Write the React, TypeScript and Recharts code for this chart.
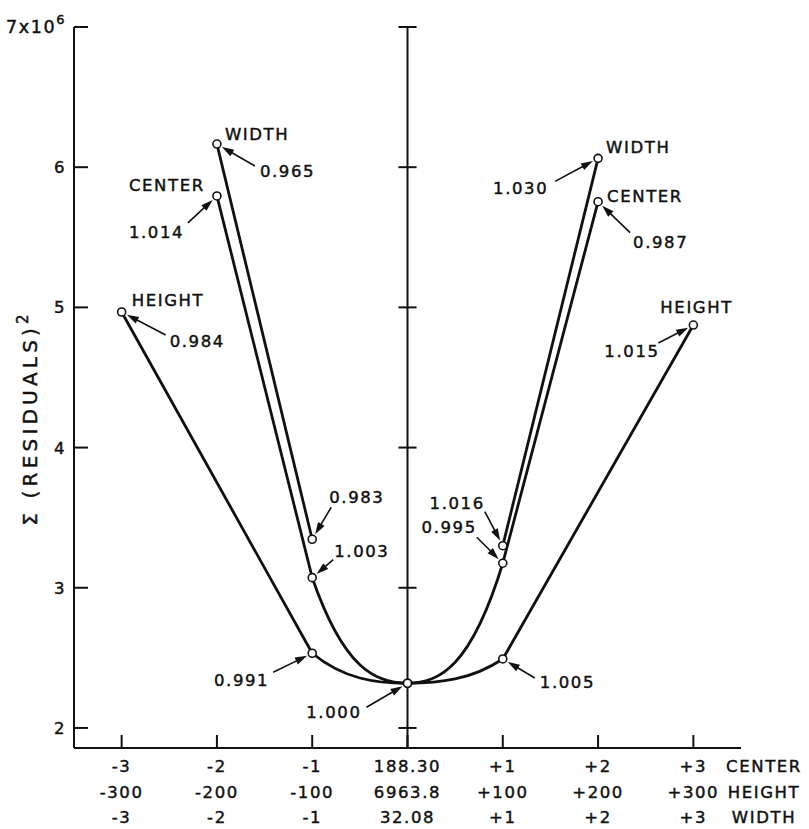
import { LabelList, Line, LineChart, ReferenceLine, XAxis, YAxis } from "recharts";

// Steps of each parameter away from the best fit.
const xValues = [-3, -2, -1, 0, 1, 2, 3];
const centerSeries = [null, 5.795, 3.072, 2.319, 3.175, 5.754, null];
const heightSeries = [4.967, null, 2.533, 2.319, 2.492, null, 4.874];
const widthSeries = [null, 6.165, 3.346, null, 3.3, 6.063, null];

// Ratio annotations written next to each point.
const centerRatio = [null, "1.014", "1.003", "1.000", "0.995", "0.987", null];
const heightRatio = ["0.984", null, "0.991", null, "1.005", null, "1.015"];
const widthRatio = [null, "0.965", "0.983", null, "1.016", "1.030", null];

const seriesNames = ["CENTER", "HEIGHT", "WIDTH"];
const centerTickLabels = ["-3", "-2", "-1", "188.30", "+1", "+2", "+3"];
const heightTickLabels = ["-300", "-200", "-100", "6963.8", "+100", "+200", "+300"];
const widthTickLabels = ["-3", "-2", "-1", "32.08", "+1", "+2", "+3"];
const yTicks = [2, 3, 4, 5, 6, 7];

const rows = xValues.map((x, i) => ({
  x,
  center: centerSeries[i],
  height: heightSeries[i],
  width: widthSeries[i],
  centerNote: centerRatio[i],
  heightNote: heightRatio[i],
  widthNote: widthRatio[i],
}));

const W = 809;
const H = 829;
const Y_AXIS_W = 74;
const X_AXIS_H = 81;
const MARGIN = { top: 27, right: 68, bottom: 0, left: 0 };
const PLOT_LEFT = MARGIN.left + Y_AXIS_W;
const AXIS_Y = H - MARGIN.bottom - X_AXIS_H;
const FONT = '"DejaVu Sans", sans-serif';
const INK = "#111";
const DOT_R = 4;

// Hand lettering is heavier than the Book face, so give it a thin outline.
const textStyle = {
  fontFamily: FONT,
  fontSize: 16.5,
  letterSpacing: 1.6,
  fill: INK,
  stroke: INK,
  strokeWidth: 0.45,
} as const;

// Where each annotation sits relative to its point (text pos, arrow tail).
type NoteSpot = { dx: number; dy: number; anchor: "start" | "end"; tx: number; ty: number };
const NOTE_SPOTS: Record<string, NoteSpot> = {
  "width:-2": { dx: 43, dy: 33, anchor: "start", tx: 38, ty: 22 },
  "center:-2": { dx: -88, dy: 42, anchor: "start", tx: -29, ty: 27 },
  "height:-3": { dx: 48, dy: 35, anchor: "start", tx: 44, ty: 23 },
  "width:-1": { dx: 17, dy: -36, anchor: "start", tx: 19, ty: -32 },
  "center:-1": { dx: 22, dy: -21, anchor: "start", tx: 21, ty: -18 },
  "height:-1": { dx: -43, dy: 33, anchor: "end", tx: -39, ty: 19 },
  "center:0": { dx: -46, dy: 35, anchor: "end", tx: -41, ty: 24 },
  "width:1": { dx: -18, dy: -37, anchor: "end", tx: -18, ty: -34 },
  "center:1": { dx: -26, dy: -30, anchor: "end", tx: -26, ty: -26 },
  "height:1": { dx: 37, dy: 29, anchor: "start", tx: 32, ty: 19 },
  "width:2": { dx: -105, dy: 36, anchor: "start", tx: -43, ty: 23 },
  "center:2": { dx: 35, dy: 46, anchor: "start", tx: 32, ty: 31 },
  "height:3": { dx: -89, dy: 32, anchor: "start", tx: -35, ty: 18 },
};

// Series name written beside the outermost point.
const NAME_SPOTS: Record<string, { dx: number; dy: number }> = {
  "width:-2": { dx: 8, dy: -4 },
  "center:-2": { dx: -88, dy: -5 },
  "height:-3": { dx: 10, dy: -6 },
  "width:2": { dx: 8, dy: -5 },
  "center:2": { dx: 9, dy: 0 },
  "height:3": { dx: -33, dy: -12 },
};

/**
 * Straight segments, except the two segments around the lowest point,
 * which are smooth and flatten out into it (as drawn by hand in the figure).
 */
function kneeCurve(context: any) {
  let pts: number[][] = [];
  return {
    areaStart() {},
    areaEnd() {},
    lineStart() {
      pts = [];
    },
    point(x: number, y: number) {
      pts.push([+x, +y]);
    },
    lineEnd() {
      const n = pts.length;
      if (!n) return;
      context.moveTo(pts[0][0], pts[0][1]);
      let b = 0;
      pts.forEach((p, i) => {
        if (p[1] > pts[b][1]) b = i;
      });
      const curved = b > 0 && b < n - 1;
      const slope = (i: number, j: number) => (pts[j][1] - pts[i][1]) / (pts[j][0] - pts[i][0]);
      const tangent = (i: number) => {
        if (i === b) return 0;
        const inner = i < b ? slope(i, i + 1) : slope(i - 1, i);
        const outer = i < b ? (i > 0 ? slope(i - 1, i) : inner) : i < n - 1 ? slope(i, i + 1) : inner;
        return Math.sign(inner) * Math.min(Math.abs(outer), 2.6 * Math.abs(inner));
      };
      for (let i = 0; i < n - 1; i++) {
        const [x0, y0] = pts[i];
        const [x1, y1] = pts[i + 1];
        if (curved && (i === b - 1 || i === b)) {
          const d = (x1 - x0) / 3;
          context.bezierCurveTo(x0 + d, y0 + d * tangent(i), x1 - d, y1 - d * tangent(i + 1), x1, y1);
        } else {
          context.lineTo(x1, y1);
        }
      }
    },
  };
}

function Arrow({ x1, y1, x2, y2 }: { x1: number; y1: number; x2: number; y2: number }) {
  const len = Math.hypot(x2 - x1, y2 - y1);
  const ux = (x2 - x1) / len;
  const uy = (y2 - y1) / len;
  const tipX = x2 - ux * (DOT_R + 1.8);
  const tipY = y2 - uy * (DOT_R + 1.8);
  const bx = tipX - ux * 12;
  const by = tipY - uy * 12;
  const px = -uy * 3.8;
  const py = ux * 3.8;
  return (
    <g>
      <line x1={x1} y1={y1} x2={bx + ux * 2} y2={by + uy * 2} stroke={INK} strokeWidth={1.6} />
      <polygon points={`${tipX},${tipY} ${bx + px},${by + py} ${bx - px},${by - py}`} fill={INK} />
    </g>
  );
}

function noteRenderer(series: string, name: string) {
  return (props: any) => {
    const { value, index } = props;
    const px = props.viewBox?.x ?? props.x;
    const py = props.viewBox?.y ?? props.y;
    if (px == null || py == null) return null;
    const key = `${series}:${xValues[index]}`;
    const spot = NOTE_SPOTS[key];
    const nameSpot = NAME_SPOTS[key];
    return (
      <g>
        {value != null && spot ? (
          <>
            <Arrow x1={px + spot.tx} y1={py + spot.ty} x2={px} y2={py} />
            <text x={px + spot.dx} y={py + spot.dy} textAnchor={spot.anchor} style={textStyle}>
              {value}
            </text>
          </>
        ) : null}
        {nameSpot ? (
          <text x={px + nameSpot.dx} y={py + nameSpot.dy} style={textStyle}>
            {name}
          </text>
        ) : null}
      </g>
    );
  };
}

function YTick({ y, payload }: any) {
  const v = payload.value;
  return (
    <g>
      <line x1={PLOT_LEFT} x2={PLOT_LEFT + 14} y1={y} y2={y} stroke={INK} strokeWidth={2} />
      <text x={PLOT_LEFT - 8} y={y + 6} textAnchor="end" style={{ ...textStyle, fontSize: v === 7 ? 17.5 : 16.5 }}>
        {v === 7 ? (
          <>
            7x10
            <tspan dy={-9} fontSize={13}>
              6
            </tspan>
          </>
        ) : (
          v
        )}
      </text>
    </g>
  );
}

const ROW_Y = [24, 50, 75];

function XTick({ x, payload }: any) {
  const i = xValues.indexOf(payload.value);
  const rowsText = [centerTickLabels[i], heightTickLabels[i], widthTickLabels[i]];
  return (
    <g>
      <line x1={x} x2={x} y1={AXIS_Y} y2={AXIS_Y - 13} stroke={INK} strokeWidth={2} />
      {rowsText.map((t, r) => (
        <text key={r} x={x} y={AXIS_Y + ROW_Y[r]} textAnchor="middle" style={textStyle}>
          {t}
        </text>
      ))}
      {i === xValues.length - 1
        ? seriesNames.map((n, r) => (
            <text key={n} x={764} y={AXIS_Y + ROW_Y[r]} textAnchor="middle" style={textStyle}>
              {n}
            </text>
          ))
        : null}
    </g>
  );
}

function YTitle() {
  return (
    <text
      x={37}
      y={418}
      transform="rotate(-90 37 418)"
      textAnchor="middle"
      style={{ ...textStyle, fontSize: 20, letterSpacing: 4.2 }}
    >
      Σ (RESIDUALS)
      <tspan dy={-9} fontSize={15}>
        2
      </tspan>
    </text>
  );
}

const lineProps = {
  stroke: INK,
  strokeWidth: 2.8,
  dot: { r: DOT_R, fill: "#fff", stroke: INK, strokeWidth: 1.6 },
  activeDot: false,
  isAnimationActive: false,
} as const;

export default function App() {
  return (
    <div style={{ position: "absolute", left: 0, top: 0, width: W, height: H, background: "#fff" }}>
      <LineChart width={W} height={H} data={rows} margin={MARGIN}>
        <XAxis
          type="number"
          dataKey="x"
          domain={[-3.5, 3.5]}
          ticks={xValues}
          interval={0}
          height={X_AXIS_H}
          tickLine={false}
          tickSize={0}
          tick={(p: any) => <XTick {...p} />}
          axisLine={{ stroke: INK, strokeWidth: 2 }}
          allowDataOverflow
        />
        <YAxis
          type="number"
          domain={[1.857, 7]}
          ticks={yTicks}
          interval={0}
          width={Y_AXIS_W}
          tickLine={false}
          tick={(p: any) => <YTick {...p} />}
          axisLine={{ stroke: INK, strokeWidth: 2 }}
          label={{ content: () => <YTitle /> }}
          allowDataOverflow
        />
        <ReferenceLine x={0} stroke={INK} strokeWidth={2} />
        {yTicks.map((v) => (
          <ReferenceLine
            key={v}
            segment={[
              { x: -0.095, y: v },
              { x: 0.095, y: v },
            ]}
            stroke={INK}
            strokeWidth={2}
          />
        ))}
        <Line dataKey="height" type={kneeCurve as any} connectNulls {...lineProps}>
          <LabelList dataKey="heightNote" content={noteRenderer("height", seriesNames[1])} />
        </Line>
        <Line dataKey="center" type={kneeCurve as any} connectNulls {...lineProps}>
          <LabelList dataKey="centerNote" content={noteRenderer("center", seriesNames[0])} />
        </Line>
        <Line dataKey="width" type={kneeCurve as any} connectNulls={false} {...lineProps}>
          <LabelList dataKey="widthNote" content={noteRenderer("width", seriesNames[2])} />
        </Line>
      </LineChart>
    </div>
  );
}
